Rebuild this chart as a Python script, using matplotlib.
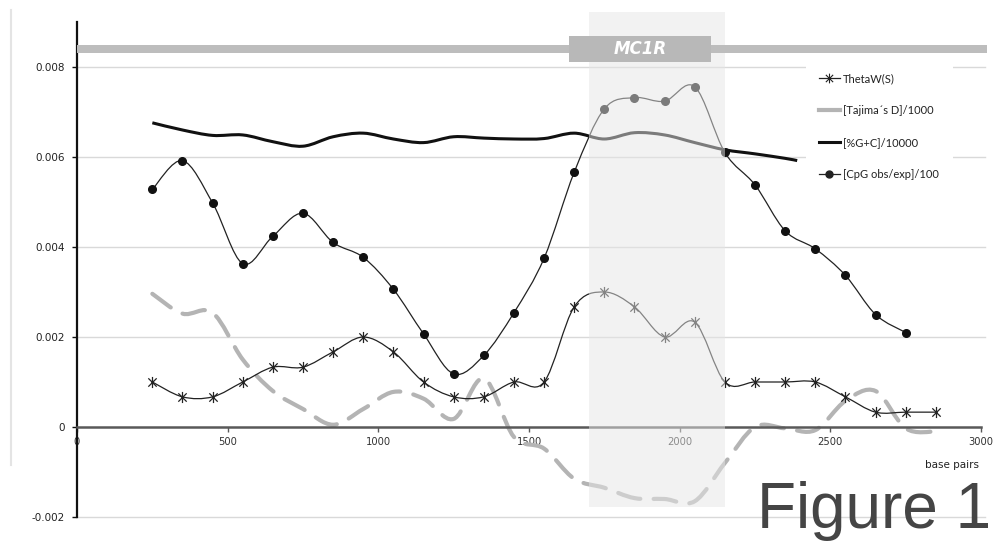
import matplotlib
matplotlib.use("Agg")
import numpy as np
import matplotlib.pyplot as plt
from matplotlib.path import Path
from matplotlib.patches import PathPatch, Rectangle
from matplotlib.lines import Line2D

# sliding-window positions (bp)
pos = [250, 350, 450, 550, 650, 750, 850, 950, 1050, 1150, 1250, 1350, 1450, 1550,
       1650, 1750, 1850, 1950, 2050, 2150, 2250, 2350, 2450, 2550, 2650, 2750, 2850]

theta_w = [0.00100, 0.00067, 0.00067, 0.00100, 0.00133, 0.00133, 0.00167, 0.00200,
           0.00167, 0.00100, 0.00067, 0.00067, 0.00100, 0.00100, 0.00267, 0.00300,
           0.00267, 0.00200, 0.00233, 0.00100, 0.00100, 0.00100, 0.00100, 0.00067,
           0.00033, 0.00033, 0.00033]

tajima = [0.00296, 0.00252, 0.00254, 0.00150, 0.00080, 0.00040, 0.00005, 0.00040,
          0.00078, 0.00063, 0.00018, 0.00108, -0.00022, -0.00048, -0.00115, -0.00135,
          -0.00158, -0.00160, -0.00165, -0.00080, 0.00000, -0.00003, -0.00007, 0.00058,
          0.00080, -0.00003, -0.00010]

cpg_pos = pos[:26]
cpg = [0.00528, 0.00592, 0.00498, 0.00363, 0.00424, 0.00475, 0.00410, 0.00377,
       0.00306, 0.00207, 0.00118, 0.00159, 0.00254, 0.00375, 0.00566, 0.00707,
       0.00732, 0.00724, 0.00756, 0.00610, 0.00538, 0.00436, 0.00396, 0.00337,
       0.00250, 0.00210]

gc_pos = pos[:22] + [2390]
gc = [0.00676, 0.00660, 0.00648, 0.00649, 0.00634, 0.00624, 0.00645, 0.00653,
      0.00640, 0.00632, 0.00645, 0.00642, 0.00640, 0.00641, 0.00653, 0.00640,
      0.00654, 0.00649, 0.00632, 0.00616, 0.00607, 0.00597, 0.00592]

yticks = [-0.002, 0, 0.002, 0.004, 0.006, 0.008]
ytick_labels = ["-0.002", "0", "0.002", "0.004", "0.006", "0.008"]
xticks = [0, 500, 1000, 1500, 2000, 2500, 3000]

gene_start, gene_end = 1633, 2104
region_start, region_end = 1700, 2150


def smooth_path(xs, ys):
    # Catmull-Rom through the points, written as cubic Bezier segments
    pts = np.column_stack([xs, ys]).astype(float)
    ext = np.vstack([pts[0], pts, pts[-1]])
    verts = [pts[0]]
    codes = [Path.MOVETO]
    for i in range(len(pts) - 1):
        p0, p1, p2, p3 = ext[i], ext[i + 1], ext[i + 2], ext[i + 3]
        verts += [p1 + (p2 - p0) / 6.0, p2 - (p3 - p1) / 6.0, p2]
        codes += [Path.CURVE4] * 3
    return Path(verts, codes)


star = Path([(0, -1), (0, 1), (-0.75, -0.75), (0.75, 0.75), (-0.75, 0.75), (0.75, -0.75)],
            [Path.MOVETO, Path.LINETO, Path.MOVETO, Path.LINETO, Path.MOVETO, Path.LINETO])

fig = plt.figure(figsize=(9.95, 5.42), dpi=100)
ax = fig.add_axes([77 / 995, 25 / 542, 904 / 995, 495 / 542])
ax.set_xlim(0, 3000)
ax.set_ylim(-0.002, 0.009)

for y in [-0.002, 0.002, 0.004, 0.006, 0.008]:
    ax.axhline(y, color="#d9d9d9", lw=1, zorder=0.5, xmax=1.004, clip_on=False)

taj = PathPatch(smooth_path(pos, tajima), facecolor="none", edgecolor="#b4b4b4", lw=3.0,
                linestyle=(0, (5.5, 3.2)), capstyle="round", zorder=2)
ax.add_patch(taj)
ax.add_patch(PathPatch(smooth_path(gc_pos, gc), facecolor="none", edgecolor="#111111",
                       lw=2.2, zorder=3))
ax.add_patch(PathPatch(smooth_path(pos, theta_w), facecolor="none", edgecolor="#222222",
                       lw=0.9, zorder=3))
ax.plot(pos, theta_w, ls="none", marker=star, ms=8, mew=0.9, color="#222222", zorder=3.5)
ax.add_patch(PathPatch(smooth_path(cpg_pos, cpg), facecolor="none", edgecolor="#222222",
                       lw=0.9, zorder=3))
ax.plot(cpg_pos, cpg, ls="none", marker="o", ms=5.5, color="#111111", zorder=3.5)

# MC1R region shading, laid over the curves
ax.add_patch(Rectangle((region_start, -0.00177), region_end - region_start, 0.00177 + 0.00922,
                       facecolor="#e6e6e6", edgecolor="none", alpha=0.5, zorder=5, clip_on=False))

# gene track
ax.add_patch(Rectangle((0, 0.00832), 3020, 0.00017, facecolor="#bdbdbd", edgecolor="none",
                       zorder=6, clip_on=False))
ax.add_patch(Rectangle((gene_start, 0.0081), gene_end - gene_start, 0.00059,
                       facecolor="#b8b8b8", edgecolor="none", zorder=6, clip_on=False))
ax.text((gene_start + gene_end) / 2, 0.00840, "MC1R", color="white", fontsize=12,
        fontweight="bold", fontstyle="italic", ha="center", va="center", zorder=7,
        family="DejaVu Sans")

for s in ["top", "right"]:
    ax.spines[s].set_visible(False)
ax.spines["bottom"].set_position(("data", 0))
ax.spines["bottom"].set_color("#595959")
ax.spines["bottom"].set_linewidth(1.8)
ax.spines["left"].set_color("#111111")
ax.spines["left"].set_linewidth(1.6)
ax.spines["bottom"].set_zorder(4)

ax.set_xticks(xticks)
ax.set_xticklabels([str(v) for v in xticks])
ax.set_yticks(yticks)
ax.set_yticklabels(ytick_labels)
ax.tick_params(axis="x", direction="out", length=3.5, width=1, color="#595959",
               labelsize=7.2, labelcolor="#333333", pad=4)
ax.tick_params(axis="y", direction="out", length=3.5, width=1, color="#111111",
               labelsize=7.5, labelcolor="#222222", pad=5)
ax.text(2995, -0.00084, "base pairs", fontsize=7.5, color="#222222", ha="right", va="center")

handles = [
    Line2D([], [], color="#222222", lw=0.9, marker=star, ms=7, mew=0.8),
    Line2D([], [], color="#b4b4b4", lw=3.0),
    Line2D([], [], color="#111111", lw=2.2),
    Line2D([], [], color="#222222", lw=0.9, marker="o", ms=5),
]
labels = ["ThetaW(S)", "[Tajima\u00b4s D]/1000", "[%G+C]/10000", "[CpG obs/exp]/100"]
leg = ax.legend(handles, labels, loc="upper left", bbox_to_anchor=(800 / 995, 1 - 54 / 542),
                bbox_transform=fig.transFigure, frameon=True, facecolor="white",
                edgecolor="none", framealpha=1, fancybox=False, borderpad=1.2,
                labelspacing=1.9, handlelength=1.9, handletextpad=0.3,
                prop={"family": "Lato", "size": 8})
leg.set_zorder(8)
for t in leg.get_texts():
    t.set_color("#222222")

# outer frame edge on the left
fig.add_artist(Line2D([11 / 995, 11 / 995], [1 - 10 / 542, 1 - 465 / 542],
                      color="#e4e4e4", lw=1.5, transform=fig.transFigure))

fig.text(757 / 995, 14 / 542, "Figure 1", fontsize=46, color="#454545",
         family="Liberation Sans", ha="left", va="baseline")

fig.savefig("out.png", dpi=100)
